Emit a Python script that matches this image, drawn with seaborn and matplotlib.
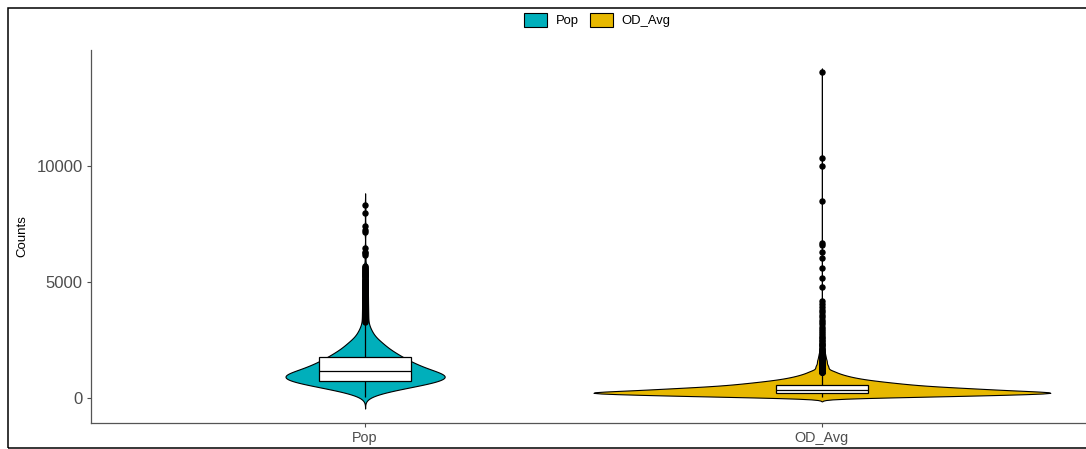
import numpy as np
import pandas as pd
import matplotlib
matplotlib.use("Agg")
import matplotlib.pyplot as plt
from matplotlib.patches import Rectangle, Patch
import seaborn as sns

plt.rcParams['font.family'] = ['Liberation Sans', 'DejaVu Sans']

pop_values = [50, 150, 250, 350, 450, 550, 650, 750, 850, 950, 1050, 1150, 1250, 1350,
              1450, 1550, 1650, 1750, 1850, 1950, 2050, 2150, 2250, 2350, 2450, 2550,
              2650, 2750, 2850, 2950, 3050, 3150]
pop_counts = [4, 8, 16, 26, 36, 46, 58, 64, 70, 72, 66, 58, 52, 47,
              43, 39, 35, 31, 29, 25, 22, 19, 17, 15, 13, 10,
              8, 7, 6, 5, 4, 3]
pop_outliers = [3220, 3250, 3290, 3320, 3360, 3400, 3440, 3480, 3520, 3550, 3590, 3630,
                3670, 3700, 3750, 3790, 3830, 3860, 3900, 3950, 3990, 4030, 4070, 4100,
                4150, 4200, 4240, 4280, 4320, 4350, 4400, 4450, 4490, 4530, 4580, 4620,
                4660, 4700, 4750, 4800, 4840, 4880, 4930, 4970, 5010, 5050, 5100, 5150,
                5200, 5240, 5290, 5330, 5380, 5420, 5470, 5520, 5560, 5600, 5640, 5680,
                6160, 6230, 6300, 6450, 7170, 7240, 7410, 7960, 8320]

od_values = [25, 75, 125, 175, 225, 275, 325, 375, 425, 475, 525, 575, 625, 675,
             725, 775, 825, 875, 925, 975, 1025, 1075, 1125, 1175]
od_counts = [35, 65, 88, 110, 135, 110, 94, 86, 74, 62, 52, 45, 40, 34,
             29, 24, 20, 17, 14, 12, 10, 8, 7, 6]
od_outliers = [1210, 1225, 1240, 1255, 1270, 1285, 1300, 1315, 1330, 1345, 1360, 1375,
               1390, 1405, 1420, 1440, 1460, 1480, 1500, 1520, 1540, 1560, 1580, 1600,
               1620, 1640, 1660, 1685, 1710, 1735, 1760, 1785, 1810, 1840, 1870, 1900,
               1930, 1960, 2000, 2040, 2080, 2120, 2170, 2220, 2270, 2320, 2380, 2440,
               2500, 2570, 2640, 2720, 2810, 2900, 2990, 3080, 3180, 3280, 3380, 3480,
               3590, 3700, 3810, 3920, 4040, 4160, 4800, 5160, 5600, 6020, 6290, 6590,
               6690, 8480, 10000, 10330, 14040]

groups = ["Pop", "OD_Avg"]
colors = {"Pop": "#00AFBB", "OD_Avg": "#E7B800"}

pop = np.concatenate([np.repeat(pop_values, pop_counts), pop_outliers])
od = np.concatenate([np.repeat(od_values, od_counts), od_outliers])
df = pd.DataFrame({
    "group": ["Pop"] * len(pop) + ["OD_Avg"] * len(od),
    "value": np.concatenate([pop, od]),
})


def nrd0(kde):
    # R's default bandwidth, as ggplot uses it
    x = kde.dataset.ravel()
    sd = x.std(ddof=1)
    iqr = np.subtract(*np.percentile(x, [75, 25]))
    h = 0.9 * min(sd, iqr / 1.34) * len(x) ** -0.2
    return h / sd


fig = plt.figure(figsize=(10.86, 4.49), dpi=100)
# the panel runs a little past the right edge of the picture
ax = fig.add_axes([91 / 1086, 1 - 423 / 449, 1005 / 1086, (423 - 50) / 449])

# no hue here so both violins share one width scale (ggplot scale="area")
sns.violinplot(data=df, x="group", y="value", order=groups, color=colors["Pop"],
               saturation=1, inner=None, cut=3, bw_method=nrd0, density_norm="area",
               gridsize=512, width=1.0, linecolor="black", linewidth=0.8, ax=ax)
for coll, g in zip(ax.collections, groups):
    coll.set_facecolor(colors[g])

sns.boxplot(data=df, x="group", y="value", order=groups, width=0.2, color="white",
            linecolor="black", linewidth=0.9, saturation=1, whis=1.5, showcaps=False,
            flierprops=dict(marker="o", markerfacecolor="black", markeredgecolor="black",
                            markersize=3.6), ax=ax)

ax.set_xlim(-0.6, 1.6)
ax.set_ylim(-1078, 15000)
ax.set_yticks([0, 5000, 10000])
ax.set_xlabel("")
ax.set_ylabel("Counts", fontsize=9.5, labelpad=6)
for side in ["top", "right"]:
    ax.spines[side].set_visible(False)
for side in ["left", "bottom"]:
    ax.spines[side].set_color("#555555")
    ax.spines[side].set_linewidth(0.9)
ax.tick_params(axis="y", labelsize=12, colors="#4D4D4D", length=3, width=0.8, pad=3)
ax.tick_params(axis="x", labelsize=10.4, colors="#4D4D4D", length=3, width=0.8, pad=3)
ax.set_facecolor("white")

handles = [Patch(facecolor=colors[g], edgecolor="black", linewidth=0.8, label=g) for g in groups]
fig.legend(handles=handles, loc="center", bbox_to_anchor=(0.55, 0.955), ncol=2,
           frameon=False, fontsize=9.4, handlelength=1.77, handleheight=1.3,
           handletextpad=0.7, columnspacing=0.8, borderpad=0)

fig.patches.append(Rectangle((8 / 1086, 1 - 447.5 / 449), 1.2, 440 / 449,
                             transform=fig.transFigure, fill=False, edgecolor="black",
                             linewidth=1.1))

fig.savefig("out.png", dpi=100)
